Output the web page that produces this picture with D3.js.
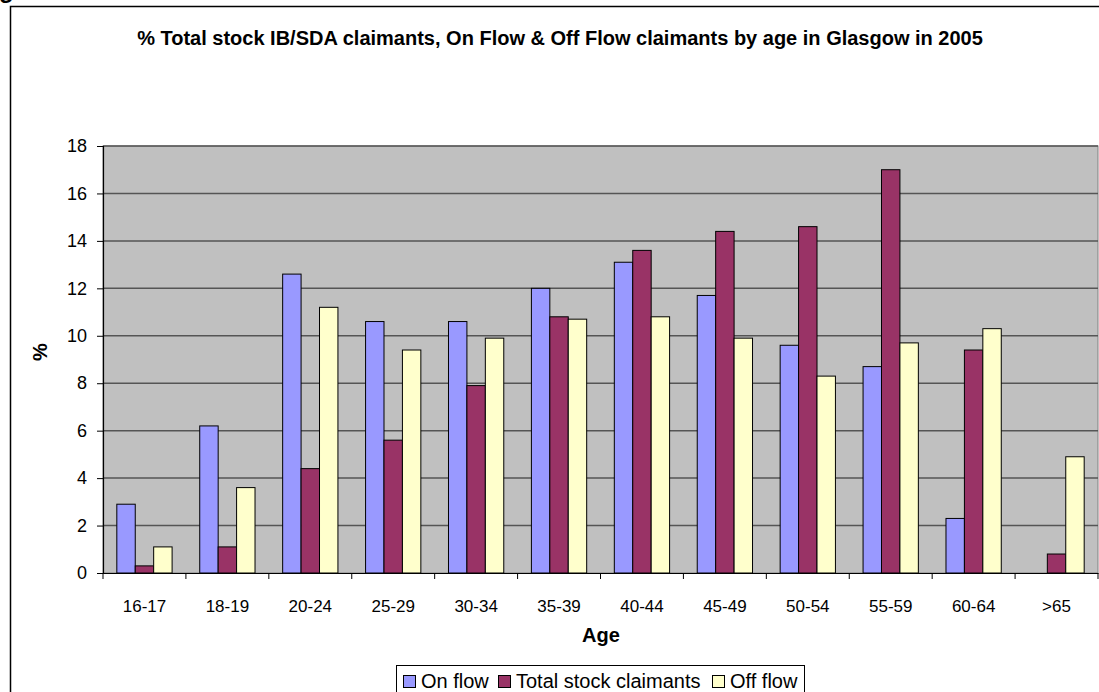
<!DOCTYPE html>
<html>
<head>
<meta charset="utf-8">
<script src="https://cdn.jsdelivr.net/npm/d3@7/dist/d3.min.js"></script>
<style>
  html, body { margin: 0; padding: 0; background: #fff; }
  svg { display: block; }
  text { font-family: "Liberation Sans", Arial, sans-serif; fill: #000; }
</style>
</head>
<body>
<svg id="chart" width="1099" height="692"></svg>
<script>
const categories = ["16-17","18-19","20-24","25-29","30-34","35-39","40-44","45-49","50-54","55-59","60-64",">65"];
const onFlow     = [2.9, 6.2, 12.6, 10.6, 10.6, 12.0, 13.1, 11.7, 9.6, 8.7, 2.3, null];
const totalStock = [0.3, 1.1, 4.4, 5.6, 7.9, 10.8, 13.6, 14.4, 14.6, 17.0, 9.4, 0.8];
const offFlow    = [1.1, 3.6, 11.2, 9.4, 9.9, 10.7, 10.8, 9.9, 8.3, 9.7, 10.3, 4.9];
const seriesNames = ["On flow", "Total stock claimants", "Off flow"];
const seriesColors = ["#9999FF", "#993366", "#FFFFCC"];
const yTicks = [0, 2, 4, 6, 8, 10, 12, 14, 16, 18];
const titleText = "% Total stock IB/SDA claimants, On Flow & Off Flow claimants by age in Glasgow in 2005";

const seriesValues = [onFlow, totalStock, offFlow];

const svg = d3.select("#chart");

// partial text at top-left (cut off in the original too)
svg.append("text").attr("x", -1).attr("y", -2).attr("font-size", 24).attr("font-weight", "bold").text("g");

// outer chart frame
svg.append("rect").attr("x", 10.5).attr("y", 6.5).attr("width", 1200).attr("height", 800)
  .attr("fill", "#fff").attr("stroke", "#000").attr("stroke-width", 1.5);

const plot = { left: 103, right: 1098, top: 146, bottom: 573 };

const x = d3.scaleBand().domain(categories).range([plot.left, plot.right]).padding(0);
const step = x.step();
const x1 = d3.scaleBand().domain(seriesNames).range([step / 6, step - step / 6]).padding(0);
const y = d3.scaleLinear().domain([0, 18]).range([plot.bottom, plot.top]);

// plot area
svg.append("rect").attr("x", plot.left).attr("y", plot.top)
  .attr("width", plot.right - plot.left).attr("height", plot.bottom - plot.top)
  .attr("fill", "#C0C0C0").attr("stroke", "#808080").attr("stroke-width", 1);

// gridlines
svg.append("g").selectAll("line").data(yTicks.filter(d => d > 0)).join("line")
  .attr("x1", plot.left).attr("x2", plot.right)
  .attr("y1", d => y(d)).attr("y2", d => y(d))
  .attr("stroke", "#555").attr("stroke-width", 1.5);

// bars
const groups = svg.append("g").selectAll("g").data(categories).join("g")
  .attr("transform", d => `translate(${x(d)},0)`);
groups.selectAll("rect")
  .data((c, i) => seriesNames.map((s, k) => ({ s, k, v: seriesValues[k][i] })).filter(d => d.v != null))
  .join("rect")
  .attr("x", d => x1(d.s))
  .attr("width", x1.bandwidth())
  .attr("y", d => y(d.v))
  .attr("height", d => y(0) - y(d.v))
  .attr("fill", d => seriesColors[d.k])
  .attr("stroke", "#000").attr("stroke-width", 1);

// y axis
const yAxis = d3.axisLeft(y).tickValues(yTicks).tickSize(6).tickPadding(10).tickFormat(d3.format("d"));
const yg = svg.append("g").attr("transform", `translate(${plot.left},0)`).call(yAxis);
yg.select(".domain").attr("stroke", "#000").attr("stroke-width", 1.2);
yg.selectAll(".tick line").attr("stroke", "#000");
yg.selectAll(".tick text").attr("font-size", 18).attr("font-family", "Liberation Sans, Arial, sans-serif").attr("fill", "#000");

// x axis
const xAxis = d3.axisBottom(x).tickSize(0).tickPadding(27);
const xg = svg.append("g").attr("transform", `translate(0,${plot.bottom})`).call(xAxis);
xg.select(".domain").attr("stroke", "#000").attr("stroke-width", 1.2);
xg.selectAll(".tick text").attr("font-size", 17).attr("font-family", "Liberation Sans, Arial, sans-serif").attr("fill", "#000");
// boundary ticks
svg.append("g").selectAll("line").data(categories.concat(["_end"])).join("line")
  .attr("x1", (d, i) => plot.left + i * step).attr("x2", (d, i) => plot.left + i * step)
  .attr("y1", plot.bottom).attr("y2", plot.bottom + 6)
  .attr("stroke", "#000").attr("stroke-width", 1);

// title
svg.append("text").attr("x", 560).attr("y", 45).attr("text-anchor", "middle")
  .attr("font-size", 20).attr("font-weight", "bold").text(titleText);

// axis titles
svg.append("text").attr("x", 601).attr("y", 642).attr("text-anchor", "middle")
  .attr("font-size", 20).attr("font-weight", "bold").text("Age");
svg.append("text").attr("transform", "translate(47,352) rotate(-90)").attr("text-anchor", "middle")
  .attr("font-size", 20).attr("font-weight", "bold").text("%");

// legend
const legend = svg.append("g");
legend.append("rect").attr("x", 396.5).attr("y", 665.5).attr("width", 408).attr("height", 40)
  .attr("fill", "#fff").attr("stroke", "#000").attr("stroke-width", 1);
const legX = [403, 498, 712];
seriesNames.forEach((s, k) => {
  legend.append("rect").attr("x", legX[k] + 0.5).attr("y", 675.5).attr("width", 12).attr("height", 12)
    .attr("fill", seriesColors[k]).attr("stroke", "#000").attr("stroke-width", 1);
  legend.append("text").attr("x", legX[k] + 18).attr("y", 688).attr("font-size", 20).text(s);
});
</script>
</body>
</html>
